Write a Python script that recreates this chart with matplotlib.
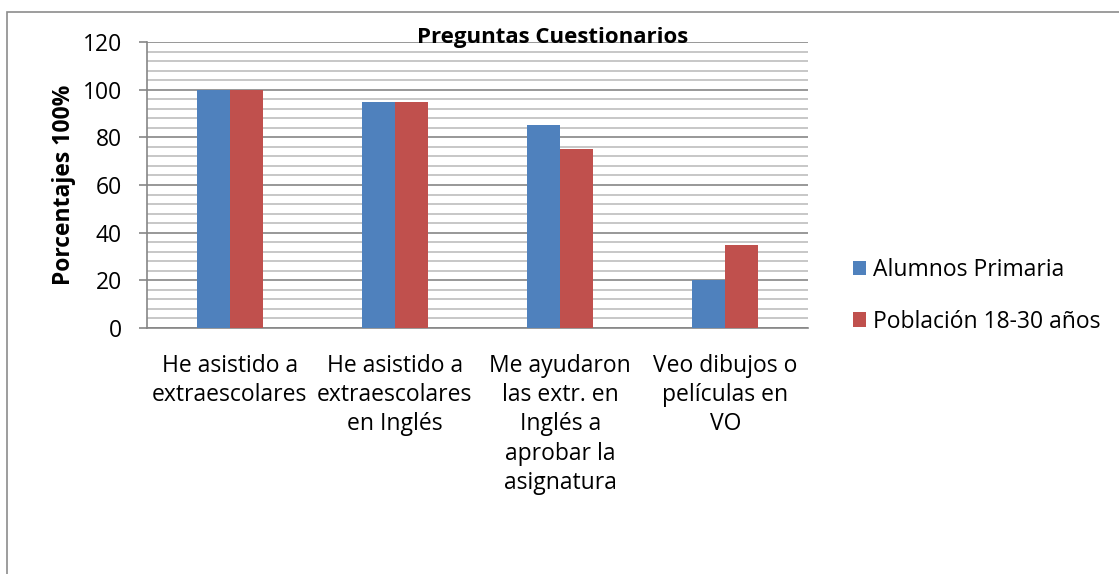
import matplotlib.pyplot as plt
import numpy as np
from matplotlib.patches import Rectangle
from matplotlib.ticker import MultipleLocator

categories = ["He asistido a\nextraescolares",
              "He asistido a\nextraescolares\nen Inglés",
              "Me ayudaron\nlas extr. en\nInglés a\naprobar la\nasignatura",
              "Veo dibujos o\npelículas en\nVO"]
alumnos = [100, 95, 85, 20]
poblacion = [100, 95, 75, 35]
series_names = ["Alumnos Primaria", "Población 18-30 años"]
colors = ["#4F81BD", "#C0504D"]

plt.rcParams['font.family'] = ['Open Sans', 'DejaVu Sans']

W, H = 1119, 574
fig = plt.figure(figsize=(W/100, H/100), dpi=100)
# outer frame
fig.add_artist(Rectangle((7/W, -0.1), 1.2, (H-12)/H + 0.1, transform=fig.transFigure,
                         fill=False, edgecolor="#8c8c8c", lw=1.2))

ax = fig.add_axes([147/W, 1-328/H, (808-147)/W, (328-42)/H])
x = np.arange(len(categories))
bw = 0.2
ax.bar(x - bw/2, alumnos, bw, color=colors[0], label=series_names[0], zorder=3)
ax.bar(x + bw/2, poblacion, bw, color=colors[1], label=series_names[1], zorder=3)
ax.set_xlim(-0.5, 3.5)
ax.set_ylim(0, 120)
ax.yaxis.set_major_locator(MultipleLocator(20))
ax.yaxis.set_minor_locator(MultipleLocator(4))
ax.grid(which='major', axis='y', color='#868686', lw=1.2, zorder=0)
ax.grid(which='minor', axis='y', color='#bdbdbd', lw=1.2, zorder=0)
ax.set_xticks(x)
ax.set_xticklabels(categories, fontsize=16.5, linespacing=1.28)
ax.tick_params(axis='x', length=0, pad=19)
ax.tick_params(axis='y', which='major', length=6, width=1.2, color='#868686', labelsize=16.5, pad=12)
ax.tick_params(axis='y', which='minor', length=0)
for s in ['top', 'right']:
    ax.spines[s].set_visible(False)
ax.spines['left'].set_color('#868686')
ax.spines['bottom'].set_color('#868686')
ax.spines['left'].set_linewidth(1.2)
ax.spines['bottom'].set_linewidth(1.2)
ax.set_ylabel("Porcentajes 100%", fontsize=16.5, fontweight='bold')
ax.yaxis.set_label_coords(-(147-76)/(808-147), 0.5)

fig.text(553/W, 1-37/H, "Preguntas Cuestionarios", fontsize=16, fontweight='bold',
         ha='center', va='center')

leg = fig.legend(loc='center left', bbox_to_anchor=(832/W, 1-296/H), frameon=False,
                 fontsize=16.5, handlelength=0.6, handleheight=0.6, handletextpad=0.3,
                 labelspacing=1.2)

fig.savefig("out.png", dpi=100)
